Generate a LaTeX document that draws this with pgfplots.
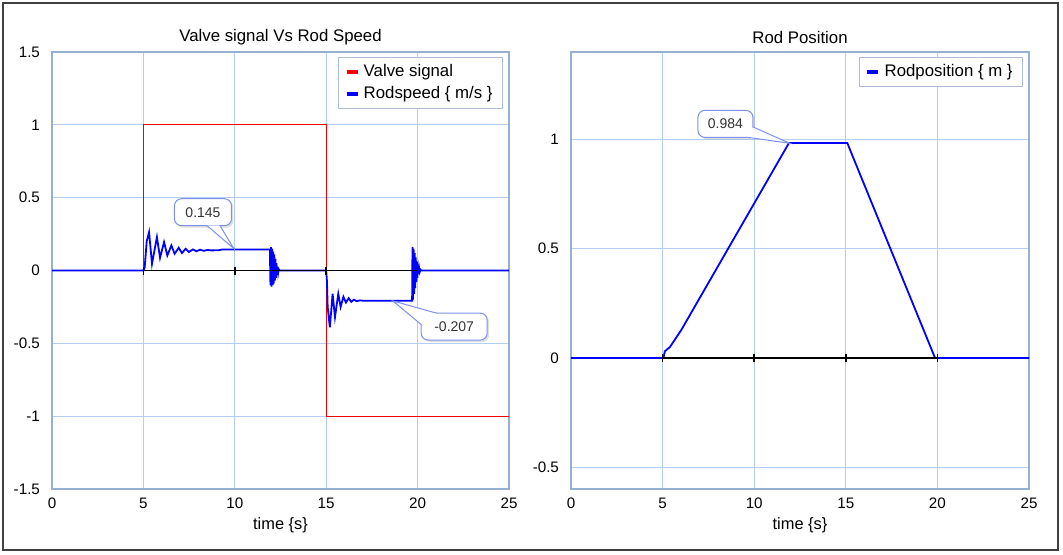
\documentclass[border=0pt]{standalone}
\usepackage{fontspec}
\setmainfont{Liberation Sans}
\usepackage{pgfplots}
\pgfplotsset{compat=1.18}
\usetikzlibrary{shadows}
\definecolor{gridblue}{RGB}{178,206,242}
\definecolor{axisframe}{RGB}{150,176,210}
\definecolor{callblue}{RGB}{125,145,235}
\definecolor{sigred}{RGB}{240,0,0}
\definecolor{rodblue}{RGB}{0,0,255}
\definecolor{legframe}{RGB}{175,190,215}
\pgfplotsset{
 myaxis/.style={
  scale only axis, anchor=south west,
  height=218.5pt,
  xmin=0,xmax=25, xtick={0,5,...,25},
  grid=major, major grid style={gridblue, line width=0.6pt},
  axis line style={axisframe, line width=0.6pt},
  tick style={draw=none},
  ticklabel style={font=\fontsize{7.6}{9}\selectfont},
  yticklabel style={xshift=-2.5pt},
  xticklabel style={yshift=-1pt},
  /pgf/number format/assume math mode=true,
  xlabel={time \{s\}}, xlabel style={font=\fontsize{8.2}{9}\selectfont, yshift=2.5pt},
  legend style={draw=legframe, fill=white, font=\fontsize{8.4}{10}\selectfont,
    anchor=north east, at={([xshift=-3pt,yshift=-2.5pt]rel axis cs:1,1)},
    inner xsep=3pt, inner ysep=1.5pt, row sep=-0.5pt, cells={anchor=west},
    /tikz/every odd column/.append style={xshift=0pt}},
  legend image code/.code={\draw[line width=2.2pt] (0pt,0pt) -- (5.5pt,0pt);},
  legend cell align=left,
 },
}
\tikzset{
 cbox/.style={draw=callblue, fill=white, rounded corners=3.5pt,
   drop shadow={opacity=0.25, shadow xshift=1pt, shadow yshift=-1pt},
   minimum height=13.5pt, inner sep=1pt,
   font=\fontsize{7}{8}\selectfont, text=black!80, line width=0.5pt},
 ctail/.style={draw=callblue, fill=white, line width=0.5pt, line join=miter}
}
\begin{document}
\begin{tikzpicture}
\useasboundingbox (0,0) rectangle (531.5pt,277pt);
\draw[black!75, line width=0.8pt] (1.5pt,2pt) rectangle (529pt,275.5pt);
\begin{axis}[myaxis, at={(26pt,32.5pt)}, width=228.5pt,
  ymin=-1.5, ymax=1.5, ytick={-1.5,-1,-0.5,0,0.5,1,1.5}]
\addplot[sigred, line width=0.6pt] coordinates {(0,0)(5,0)(5,1)(15,1)(15,-1)(25,-1)};
\addlegendentry{Valve signal}
\addplot[rodblue, line width=0.9pt] coordinates {
(0,0)(5.0,0)(5.07,0.02)(5.18,0.20)(5.31,0.263)(5.47,0.046)(5.74,0.229)(5.91,0.087)
(6.13,0.195)(6.31,0.103)(6.53,0.172)(6.71,0.115)(6.93,0.156)(7.11,0.12)(7.31,0.149)
(7.49,0.127)(7.71,0.145)(7.90,0.132)(8.10,0.143)(8.30,0.135)(8.50,0.141)(8.70,0.138)
(9.1,0.139)(9.3,0.144)(11.92,0.144)
(11.95,-0.10)(11.98,0.16)(12.01,-0.11)(12.04,0.15)(12.07,-0.10)(12.10,0.13)(12.13,-0.09)
(12.16,0.11)(12.19,-0.07)(12.22,0.08)(12.25,-0.05)(12.28,0.05)(12.31,-0.03)(12.34,0.025)
(12.37,-0.015)(12.40,0.01)(12.45,0)(15,0)
(15.0,0)(15.04,-0.07)(15.08,-0.25)(15.2,-0.39)(15.35,-0.16)(15.48,-0.32)(15.66,-0.16)
(15.79,-0.25)(15.94,-0.18)(16.08,-0.22)(16.23,-0.19)(16.37,-0.215)(16.52,-0.20)(16.66,-0.21)
(16.85,-0.205)(17.0,-0.207)(19.70,-0.207)
(19.72,0.16)(19.75,-0.20)(19.78,0.15)(19.81,-0.16)(19.84,0.12)(19.87,-0.12)(19.90,0.09)
(19.93,-0.08)(19.96,0.06)(19.99,-0.05)(20.02,0.04)(20.05,-0.025)(20.08,0.02)(20.12,-0.01)
(20.16,0.005)(20.2,0)(25,0)};
\addlegendentry{Rodspeed \{ m/s \}}
\addplot[black, line width=0.7pt, mark=|, mark size=2pt, mark options={line width=0.8pt}, forget plot]
 coordinates {(5,0)(10,0)(15,0)(20,0)};
\coordinate (p1) at (axis cs:9.95,0.150);
\coordinate (b1) at (axis cs:8.26,0.40);
\coordinate (p2) at (axis cs:18.65,-0.209);
\coordinate (b2) at (axis cs:22.0,-0.385);
\coordinate (t1) at (rel axis cs:0.5,1);
\end{axis}
\begin{axis}[myaxis, at={(285.5pt,32.5pt)}, width=229pt,
  ymin=-0.6, ymax=1.4, ytick={-0.5,0,0.5,1}]
\addplot[rodblue, line width=0.9pt] coordinates {
(0,0)(5.05,0)(5.12,0.03)(5.4,0.05)(6.0,0.125)(11.9,0.984)(15.08,0.984)(15.32,0.934)(19.87,0)(25,0)};
\addlegendentry{Rodposition \{ m \}}
\addplot[black, line width=0.7pt, mark=|, mark size=2pt, mark options={line width=0.8pt}, forget plot]
 coordinates {(5,0)(10,0)(15,0)(20,0)};
\coordinate (p3) at (axis cs:11.95,0.982);
\coordinate (b3) at (axis cs:8.43,1.071);
\coordinate (t2) at (rel axis cs:0.5,1);
\end{axis}
\node[font=\fontsize{8.4}{10}\selectfont] at ([yshift=7.5pt]t1) {Valve signal Vs Rod Speed};
\node[font=\fontsize{8.4}{10}\selectfont] at ([yshift=7.5pt]t2) {Rod Position};
% callout 1
\node[cbox, minimum width=28.5pt] (c1) at (b1) {0.145};
\draw[ctail] ([xshift=2pt,yshift=0.3pt]c1.south) -- (p1) -- ([xshift=8.5pt,yshift=0.3pt]c1.south);
\fill[white] ([xshift=2.4pt,yshift=0.3pt]c1.south) -- ([xshift=8.1pt,yshift=0.3pt]c1.south) -- ([xshift=6pt,yshift=-1pt]c1.south) -- cycle;
% callout 2
\node[cbox, minimum width=33pt] (c2) at (b2) {-0.207};
\draw[ctail] ([xshift=8pt,yshift=-0.3pt]c2.north west) -- (p2) -- ([xshift=0.3pt,yshift=-6pt]c2.north west);
\fill[white] ([xshift=7.6pt,yshift=-0.3pt]c2.north west) -- ([xshift=0.3pt,yshift=-5.6pt]c2.north west) -- ([xshift=1.5pt,yshift=-1.5pt]c2.north west) -- cycle;
% callout 3
\node[cbox, minimum width=27.5pt] (c3) at (b3) {0.984};
\draw[ctail] ([xshift=-0.3pt,yshift=-1.5pt]c3.east) -- (p3) -- ([xshift=-3pt,yshift=0.3pt]c3.south east);
\fill[white] ([xshift=-0.3pt,yshift=-1.9pt]c3.east) -- ([xshift=-3.4pt,yshift=0.3pt]c3.south east) -- ([xshift=-1.5pt,yshift=1.5pt]c3.south east) -- cycle;
\end{tikzpicture}
\end{document}
